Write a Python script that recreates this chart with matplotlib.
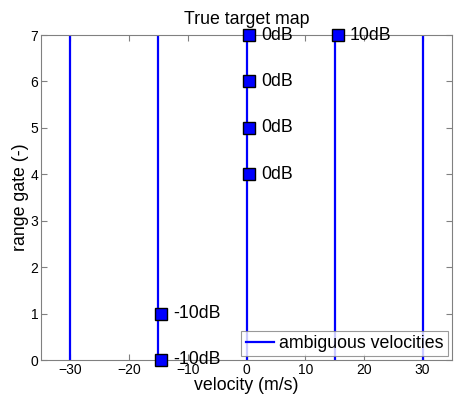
import matplotlib.pyplot as plt
import numpy as np

plt.rcParams['font.family'] = ['Liberation Sans', 'DejaVu Sans']

# ambiguous velocity lines (m/s)
amb_velocities = [-30, -15, 0, 15, 30]

# targets: velocity, range gate, power label
target_vel = [0.5, 0.5, 0.5, 0.5, 15.5, -14.5, -14.5]
target_gate = [7, 6, 5, 4, 7, 1, 0]
target_power = ['0dB', '0dB', '0dB', '0dB', '10dB', '-10dB', '-10dB']

fig = plt.figure(figsize=(4.59, 4.05), dpi=100)
ax = fig.add_axes([41 / 459, 45 / 405, 411 / 459, 325 / 405])

for i, v in enumerate(amb_velocities):
    ax.plot([v, v], [0, 7], color='#0000ff', lw=1.6, zorder=2,
            label='ambiguous velocities' if i == 0 else None)

ax.plot(target_vel, target_gate, 's', ms=8.5, mfc='#0000ff', mec='black',
        mew=1.0, clip_on=False, zorder=4)
for v, g, p in zip(target_vel, target_gate, target_power):
    ax.text(v + 2.0, g, p, fontsize=12.8, va='center', ha='left', zorder=5)

ax.set_xlim(-35, 35)
ax.set_ylim(0, 7)
ax.set_xticks(np.arange(-30, 31, 10))
ax.set_yticks(np.arange(0, 8, 1))
ax.tick_params(direction='in', length=4, labelsize=10, color='#808080',
               top=True, right=True, pad=2)
for s in ax.spines.values():
    s.set_color('#808080')
    s.set_linewidth(0.8)

ax.set_xlabel('velocity (m/s)', fontsize=12.8, labelpad=0)
ax.set_ylabel('range gate (-)', fontsize=12.8, labelpad=1)
ax.set_title('True target map', fontsize=12.8, pad=8)

leg = ax.legend(loc='lower right', fontsize=12.8, frameon=True, fancybox=False,
                borderpad=0.25, handlelength=1.6, handletextpad=0.3,
                borderaxespad=0.2)
leg.get_frame().set_edgecolor('#808080')
leg.get_frame().set_linewidth(0.8)
leg.set_zorder(6)

fig.savefig('out.png', dpi=100)
